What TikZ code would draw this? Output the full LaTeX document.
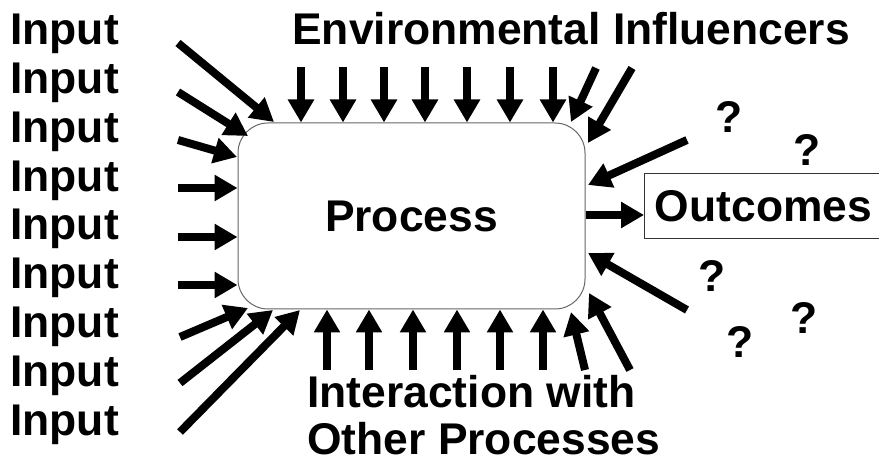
\documentclass[tikz,border=0pt]{standalone}
\usepackage{fontspec}
\setmainfont{Liberation Sans}
\usetikzlibrary{calc}
\usetikzlibrary{positioning}
\usetikzlibrary{arrows.meta}
\tikzset{every picture/.style={semithick, >=stealth}}

\begin{document}
\begin{tikzpicture}[x=1pt, y=-1pt,
		arr/.style={line width=8pt, -{Triangle[width=25pt,length=23pt]}},
		lbl/.style={anchor=base west, inner sep=0pt, font=\fontsize{44.4}{47}\selectfont\bfseries}]
		\def\inX{178}
		\def\topY{67}
		\def\botY{370}

	\useasboundingbox (0,0) rectangle (879,465);

	\node[draw=black!60, line width=1pt, rounded corners=30pt, minimum width=347pt, minimum height=186pt, inner sep=0pt,
		font=\fontsize{44.4}{47}\selectfont\bfseries] (proc) at (411.5,216) {Process};
	\node[draw=black!80, line width=1pt, anchor=west, minimum width=238pt, minimum height=65pt, inner sep=0pt,
		font=\fontsize{44.4}{47}\selectfont\bfseries] (out) at (644,206.5) {Outcomes};

	% labels
	\foreach \i in {0,...,8}
		\node[lbl] (in\i) at (10,45+48.75*\i) {Input};
	\node[lbl] (env) at (292,45) {Environmental Influencers};
	\node[lbl] (inter) at (307,407) {Interaction with};
	\node[lbl] (other) at (307,454) {Other Processes};

	\node[lbl] (q1) at (715,133) {?};
	\node[lbl] (q2) at (793,166) {?};
	\node[lbl] (q3) at (698,292) {?};
	\node[lbl] (q4) at (790,334) {?};
	\node[lbl] (q5) at (726,358) {?};

	% inputs
	\draw[arr] (\inX,43) -- (274,122);
	\draw[arr] (\inX,92) -- (248,136);
	\draw[arr] (\inX,140) -- (237,157);
	\foreach \y in {188,237,285}
		\draw[arr] (\inX,\y) -- (\inX,\y -| proc.west);
	\draw[arr] (180,337) -- (248,308);
	\draw[arr] (180,383) -- (273,310);
	\draw[arr] (180,432) -- (300,310);

	% environment
	\foreach \x in {301,343,384,425,467,510,553}
		\draw[arr] (\x,\topY) -- (\x,0 |- proc.north);
	\draw[arr] (596,68) -- (571,122);
	\draw[arr] (632,68) -- (588,143);
	\draw[arr] (687,140) -- (588,185);

	% interaction
	\foreach \x in {327,369,413,457,500,543}
		\draw[arr] (\x,\botY) -- (\x,0 |- proc.south);
	\draw[arr] (585,\botY) -- (571,312);
	\draw[arr] (630,\botY) -- (589,293);
	\draw[arr] (687,310) -- (588,253);

	% outcome
	\draw[arr] (proc.east |- 0,215) -- (out.west |- 0,215);

\end{tikzpicture}
\end{document}
